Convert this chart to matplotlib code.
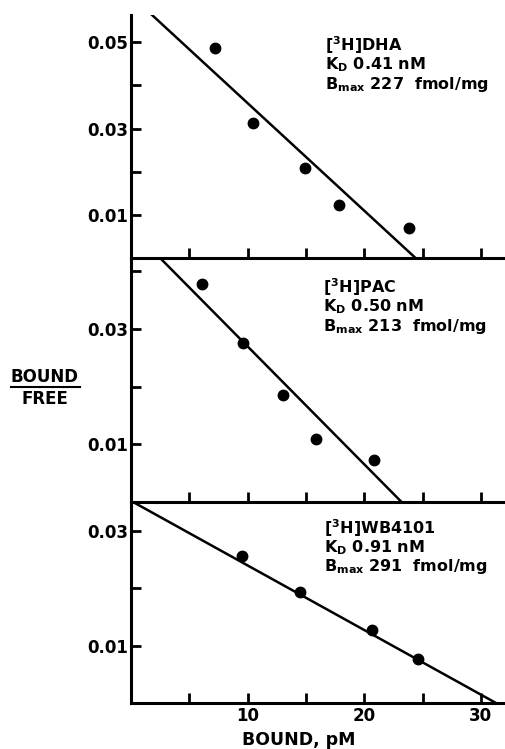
import matplotlib
matplotlib.use("Agg")
import matplotlib.pyplot as plt
import numpy as np

plt.rcParams['font.family'] = ['DejaVu Sans']
plt.rcParams['font.weight'] = 'bold'
plt.rcParams['mathtext.fontset'] = 'custom'
plt.rcParams['mathtext.rm'] = 'DejaVu Sans:bold'
plt.rcParams['mathtext.it'] = 'DejaVu Sans:bold'
plt.rcParams['mathtext.bf'] = 'DejaVu Sans:bold'
plt.rcParams['mathtext.default'] = 'rm'

# ---- data ----
ligands = ["DHA", "PAC", "WB4101"]
kd_labels = ["0.41", "0.50", "0.91"]
bmax_labels = ["227", "213", "291"]

dha_x = [7.2, 10.5, 14.95, 17.8, 23.8]
dha_y = [0.0486, 0.0312, 0.0209, 0.0123, 0.0070]
pac_x = [6.05, 9.6, 13.0, 15.9, 20.85]
pac_y = [0.0378, 0.0275, 0.0185, 0.0109, 0.0072]
wb_x = [9.55, 14.45, 20.7, 24.6]
wb_y = [0.0256, 0.0193, 0.0128, 0.0077]

# fitted Scatchard lines: (y-intercept, x-intercept)
fit_y0 = [0.0608, 0.0474, 0.0353]
fit_x0 = [24.4, 23.2, 31.3]

ylims = [0.0563, 0.0423, 0.0351]
yticks = [[0.01, 0.02, 0.03, 0.04, 0.05], [0.01, 0.02, 0.03, 0.04], [0.01, 0.02, 0.03]]
ylabeled = [[0.01, 0.03, 0.05], [0.01, 0.03], [0.01, 0.03]]
xticks = [5, 10, 15, 20, 25, 30]
xticklabels = ["", "10", "", "20", "", "30"]

xs = [dha_x, pac_x, wb_x]
ys = [dha_y, pac_y, wb_y]

W, H = 506, 749
fig = plt.figure(figsize=(W / 100, H / 100), dpi=100)

panels = [(15, 258), (258, 502), (502, 703)]
left_px, right_px = 131, 503
text_pos = [(325, 45), (323, 287), (324, 528)]

for i in range(3):
    top, bot = panels[i]
    ax = fig.add_axes([left_px / W, 1 - bot / H, (right_px - left_px) / W, (bot - top) / H])
    ax.set_xlim(0, 31.9)
    ax.set_ylim(0, ylims[i])
    for s in ['top', 'right']:
        ax.spines[s].set_visible(False)
    for s in ['left', 'bottom']:
        ax.spines[s].set_linewidth(2.2)
    xl = np.array([0, fit_x0[i]])
    yl = fit_y0[i] * (1 - xl / fit_x0[i])
    ax.plot(xl, yl, color='black', lw=1.8, solid_capstyle='butt')
    ax.plot(xs[i], ys[i], 'o', color='black', ms=7.5)
    ax.set_yticks(yticks[i])
    ax.set_yticklabels([("%.2f" % v) if v in ylabeled[i] else "" for v in yticks[i]])
    ax.set_xticks(xticks)
    if i == 2:
        ax.set_xticklabels(xticklabels)
    else:
        ax.set_xticklabels([""] * len(xticks))
    ax.tick_params(direction='in', length=7, width=2, labelsize=12, pad=3)
    ax.tick_params(axis='y', pad=2)
    ax.patch.set_alpha(0)

    tx, ty = text_pos[i]
    lines = ["[$^{3}$H]" + ligands[i],
             "K$_{D}$ " + kd_labels[i] + " nM",
             "B$_{max}$ " + bmax_labels[i] + "  fmol/mg"]
    for j, ln in enumerate(lines):
        fig.text(tx / W, 1 - (ty + j * 19.5) / H, ln, fontsize=11.5, fontweight='bold',
                 ha='left', va='center')

# y label as fraction
fig.text(45 / W, 1 - 377 / H, "BOUND", fontsize=12, fontweight='bold', ha='center', va='center')
fig.add_artist(plt.Line2D([11 / W, 80 / W], [1 - 387 / H, 1 - 387 / H], color='black', lw=1.5))
fig.text(45 / W, 1 - 399 / H, "FREE", fontsize=12, fontweight='bold', ha='center', va='center')

fig.text(299 / W, 1 - 740 / H, "BOUND, pM", fontsize=12.5, fontweight='bold', ha='center', va='center')

fig.savefig("out.png", dpi=100)
